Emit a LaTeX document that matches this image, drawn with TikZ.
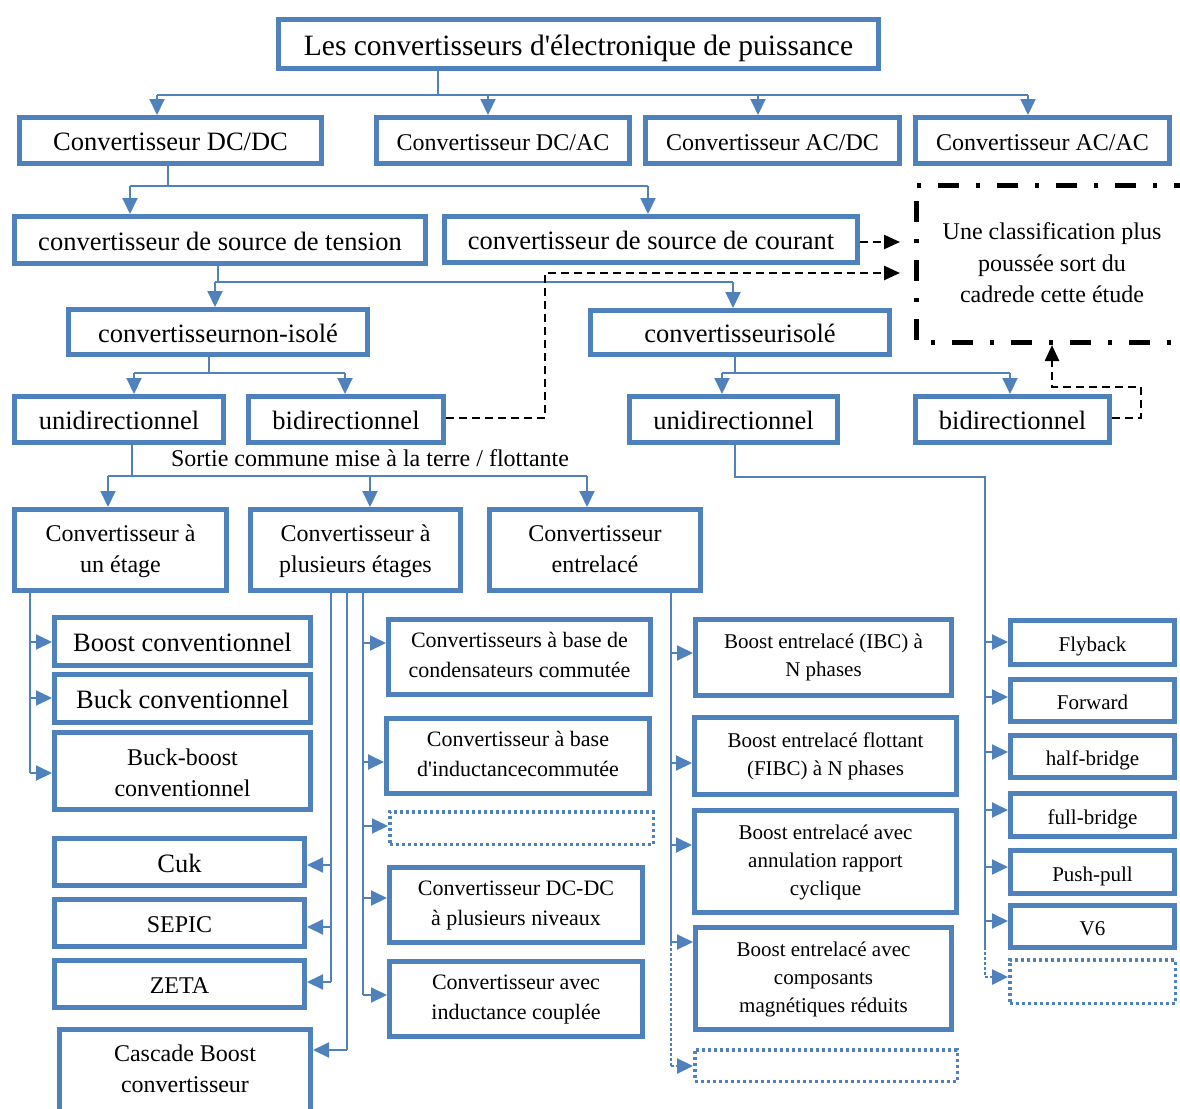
\documentclass[tikz,border=0pt]{standalone}
\usepackage{fontspec}
\setmainfont{Liberation Serif}
\usetikzlibrary{arrows.meta}
\definecolor{ob}{RGB}{79,129,189}
\newcommand\fsz[2]{\fontsize{#1}{#2}\selectfont}
% \bx[style]{x1}{y1}{x2}{y2}{name}{text}: framed box given by its outer edges
\newcommand\bx[7][]{\node[box,#1,minimum width={#4-#2-5},minimum height={#5-#3-5}] (#6) at ({(#2+#4)/2},{(#3+#5)/2}) {#7};}
% \dbx{x1}{y1}{x2}{y2}{name}: empty dotted box
\newcommand\dbx[5]{\node[dotbox,minimum width={#3-#1-3.5},minimum height={#4-#2-3.5}] (#5) at ({(#1+#3)/2},{(#2+#4)/2}) {};}
\begin{document}
\begin{tikzpicture}[x=1pt,y=-1pt,
  box/.style={draw=ob,line width=5pt,fill=white,inner sep=0pt,align=center},
  dotbox/.style={draw=ob,line width=3.5pt,dash pattern=on 3pt off 3pt,inner sep=0pt},
  bl/.style={draw=ob,line width=2pt},
  tip/.style={-{Triangle[length=16pt,width=15pt]}},
  ar/.style={bl,tip},
  dl/.style={draw=ob,line width=2.5pt,dash pattern=on 2.5pt off 2.5pt},
  dar/.style={dl,tip},
  bk/.style={draw=black,line width=2.5pt,dash pattern=on 8pt off 5pt},
  bkar/.style={bk,-{Triangle[length=16pt,width=14pt]}},
  % one-line texts
  fA/.style={font=\fsz{29.5}{34},text height=26pt,text depth=2pt},
  fB/.style={font=\fsz{26.5}{31},text height=22pt,text depth=2pt},
  fC/.style={font=\fsz{24}{31},text height=21pt,text depth=1.5pt},
  fE/.style={font=\fsz{21}{28},text height=19.5pt,text depth=1.5pt},
  % two- and three-line texts (height counted from the last baseline)
  fC2/.style={font=\fsz{24}{31},text height=46.5pt,text depth=1.5pt},
  fD2/.style={font=\fsz{22}{30},text height=43pt,text depth=1.5pt},
  fE2/.style={font=\fsz{21}{28},text height=39.5pt,text depth=1.5pt},
  fE3/.style={font=\fsz{21}{28},text height=69pt,text depth=1.5pt},
]
\useasboundingbox (0,0) rectangle (1180,1108);

% ---- boxes ----
\bx[fA]{276}{17}{881}{71}{title}{Les convertisseurs d\textquotesingle électronique de puissance}
\bx[fB]{17}{115}{324}{166}{dcdc}{Convertisseur DC/DC}
\bx[fC]{374}{115}{632}{166}{dcac}{Convertisseur DC/AC}
\bx[fC]{643}{115}{902}{166}{acdc}{Convertisseur AC/DC}
\bx[fC]{913}{115}{1172}{166}{acac}{Convertisseur AC/AC}

\bx[fB]{12}{214}{428}{266}{tension}{convertisseur de source de tension}
\bx[fB]{442}{214}{860}{265}{courant}{convertisseur de source de courant}

\bx[fB]{66}{307}{370}{357}{nonisole}{convertisseurnon-isolé}
\bx[fB]{588}{308}{892}{357}{isole}{convertisseurisolé}

\bx[fB]{12}{394}{226}{445}{uniL}{unidirectionnel}
\bx[fB]{246}{394}{446}{445}{bidiL}{bidirectionnel}
\bx[fB]{627}{394}{840}{445}{uniR}{unidirectionnel}
\bx[fB]{913}{394}{1112}{445}{bidiR}{bidirectionnel}

\node[font=\fsz{24}{31}] (sortie) at (370,458) {Sortie commune mise à la terre / flottante};

\bx[fC2]{12}{507}{229}{593}{unetage}{Convertisseur à\\un étage}
\bx[fC2]{248}{507}{463}{593}{plusieurs}{Convertisseur à\\plusieurs étages}
\bx[fC2]{487}{507}{703}{593}{entrelace}{Convertisseur\\entrelacé}

\bx[fB]{52}{615}{313}{668}{boost}{Boost conventionnel}
\bx[fB]{52}{672}{313}{725}{buck}{Buck conventionnel}
\bx[fC2,text height=51.5pt]{52}{730}{313}{812}{buckboost}{Buck-boost\\conventionnel}
\bx[fB]{52}{836}{307}{888}{cuk}{Cuk}
\bx[fC]{52}{897}{307}{949}{sepic}{SEPIC}
\bx[fC]{52}{958}{307}{1010}{zeta}{ZETA}
\bx[fC2,text height=41.5pt]{57}{1027}{313}{1117}{cascade}{Cascade Boost\\convertisseur}

\bx[fD2]{386}{617}{653}{697}{cond}{Convertisseurs à base de\\condensateurs commutée}
\bx[fD2]{384}{716}{652}{796}{induc}{Convertisseur à base\\d\textquotesingle inductancecommutée}
\dbx{388}{810}{655}{846}{dotA}
\bx[fD2]{387}{865}{645}{945}{dcdcml}{Convertisseur DC-DC\\à plusieurs niveaux}
\bx[fD2]{387}{959}{645}{1039}{couplee}{Convertisseur avec\\inductance couplée}

\bx[fE2]{693}{617}{954}{698}{ibc}{Boost entrelacé (IBC) à\\N phases}
\bx[fE2]{692}{715}{959}{797}{fibc}{Boost entrelacé flottant\\(FIBC) à N phases}
\bx[fE3]{692}{808}{959}{915}{annul}{Boost entrelacé avec\\annulation rapport\\cyclique}
\bx[fE3]{693}{925}{954}{1032}{compo}{Boost entrelacé avec\\composants\\magnétiques réduits}
\dbx{693}{1048}{959}{1083}{dotB}

\bx[fE]{1008}{618}{1177}{667}{fly}{Flyback}
\bx[fE]{1008}{677}{1177}{724}{fwd}{Forward}
\bx[fE]{1008}{733}{1177}{780}{half}{half-bridge}
\bx[fE]{1008}{791}{1177}{839}{full}{full-bridge}
\bx[fE]{1008}{848}{1177}{896}{push}{Push-pull}
\bx[fE]{1008}{903}{1177}{950}{v6}{V6}
\dbx{1008}{958}{1177}{1005}{dotC}

% ---- note outside the scope of the study ----
\node[align=center,font=\fsz{24}{31.5}] (note) at (1052,263) {Une classification plus\\poussée sort du\\cadrede cette étude};
\draw[line width=5pt,dash pattern=on 21pt off 17pt on 4pt off 17pt]
  (1195,185) -- (916,185) -- (916,342) -- (1195,342);

% ---- connectors ----
\draw[bl] (title.south -| 438,0) -- (438,95);
\draw[bl] (157,95) -- (1028,95);
\foreach \n/\x in {dcdc/157,dcac/488,acdc/758,acac/1028}
  \draw[ar] (\x,95) -- (\n.north -| \x,0);

\draw[bl] (dcdc.south -| 168,0) -- (168,186);
\draw[bl] (130,186) -- (648,186);
\draw[ar] (130,186) -- (tension.north -| 130,0);
\draw[ar] (648,186) -- (courant.north -| 648,0);

\draw[bl] (tension.south -| 218,0) -- (218,282);
\draw[bl] (215,282) -- (733,282);
\draw[ar] (215,282) -- (nonisole.north -| 215,0);
\draw[ar] (733,282) -- (isole.north -| 733,0);

\draw[bl] (nonisole.south -| 209,0) -- (209,373);
\draw[bl] (134,373) -- (345,373);
\draw[ar] (134,373) -- (uniL.north -| 134,0);
\draw[ar] (345,373) -- (bidiL.north -| 345,0);

\draw[bl] (isole.south -| 735,0) -- (735,373);
\draw[bl] (722,373) -- (1010,373);
\draw[ar] (722,373) -- (uniR.north -| 722,0);
\draw[ar] (1010,373) -- (bidiR.north -| 1010,0);

% dashed links towards the note
\draw[bkar] (courant.east |- 0,242) -- (900,242);
\draw[bkar] (bidiL.east |- 0,418) -| (545,273) -- (900,273);
\draw[bkar] (bidiR.east |- 0,418) -| (1141,387) -| (1052,345);

% non-isolated, unidirectional
\draw[bl] (uniL.south -| 132,0) -- (132,476);
\draw[bl] (108,476) -- (587,476);
\draw[ar] (108,476) -- (unetage.north -| 108,0);
\draw[ar] (370,476) -- (plusieurs.north -| 370,0);
\draw[ar] (587,476) -- (entrelace.north -| 587,0);

\draw[bl] (unetage.south -| 30,0) -- (30,773);
\foreach \n/\y in {boost/642,buck/698,buckboost/773}
  \draw[ar] (30,\y) -- (\n.west |- 0,\y);

\draw[bl] (plusieurs.south -| 331,0) -- (331,982);
\foreach \n/\y in {cuk/865,sepic/927,zeta/982}
  \draw[ar] (331,\y) -- (\n.east |- 0,\y);
\draw[bl] (plusieurs.south -| 347,0) -- (347,1050);
\draw[ar] (347,1050) -- (cascade.east |- 0,1050);
\draw[bl] (plusieurs.south -| 363,0) -- (363,995);
\foreach \n/\y in {cond/643,induc/762,dotA/826,dcdcml/898,couplee/995}
  \draw[ar] (363,\y) -- (\n.west |- 0,\y);

\draw[bl] (entrelace.south -| 671,0) -- (671,943);
\foreach \n/\y in {ibc/653,fibc/763,annul/845,compo/942}
  \draw[ar] (671,\y) -- (\n.west |- 0,\y);
\draw[dl] (671,943) -- (671,1066);
\draw[dar] (671,1066) -- (dotB.west |- 0,1066);

% isolated, unidirectional
\draw[bl] (uniR.south -| 735,0) |- (985,477) -- (985,947);
\foreach \n/\y in {fly/642,fwd/697,half/752,full/810,push/867,v6/921}
  \draw[ar] (985,\y) -- (\n.west |- 0,\y);
\draw[dl] (985,947) -- (985,977);
\draw[dar] (985,977) -- (dotC.west |- 0,977);
\end{tikzpicture}
\end{document}
